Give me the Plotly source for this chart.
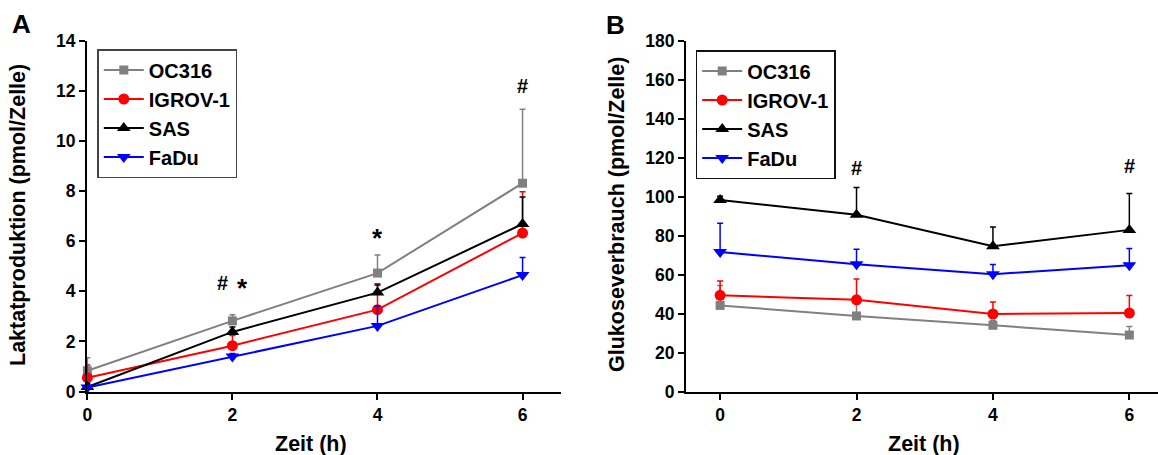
import plotly.graph_objects as go

# Time points (h)
zeit = [0, 2, 4, 6]
zelllinien = ["OC316", "IGROV-1", "SAS", "FaDu"]
farben = ["#808080", "#ff0000", "#000000", "#0000ff"]
symbole = ["square", "circle", "triangle-up", "triangle-down"]
groessen = [9, 11, 12, 12]

# Panel A: lactate production (pmol/cell), mean and upper SD
laktat_oc316 = [0.83, 2.82, 4.73, 8.32]
laktat_igrov = [0.55, 1.83, 3.27, 6.33]
laktat_sas = [0.18, 2.38, 3.95, 6.69]
laktat_fadu = [0.16, 1.40, 2.62, 4.65]
laktat_sd_oc316 = [0.52, 0.25, 0.72, 2.95]
laktat_sd_igrov = [0.51, 0.41, 1.03, 1.65]
laktat_sd_sas = [0.15, 0.20, 0.30, 1.08]
laktat_sd_fadu = [0.08, 0.12, 0.80, 0.70]

# Panel B: glucose consumption (pmol/cell), mean and upper SD
glukose_oc316 = [44.2, 38.8, 34.0, 29.0]
glukose_igrov = [49.4, 47.1, 39.8, 40.3]
glukose_sas = [98.3, 90.8, 74.6, 83.0]
glukose_fadu = [71.6, 65.3, 60.2, 64.9]
glukose_sd_oc316 = [10.3, 7.0, 2.5, 4.4]
glukose_sd_igrov = [7.4, 10.7, 6.1, 9.0]
glukose_sd_sas = [2.0, 14.0, 9.9, 18.7]
glukose_sd_fadu = [14.8, 7.8, 5.0, 8.5]

laktat_werte = [laktat_oc316, laktat_igrov, laktat_sas, laktat_fadu]
laktat_sd = [laktat_sd_oc316, laktat_sd_igrov, laktat_sd_sas, laktat_sd_fadu]
glukose_werte = [glukose_oc316, glukose_igrov, glukose_sas, glukose_fadu]
glukose_sd = [glukose_sd_oc316, glukose_sd_igrov, glukose_sd_sas, glukose_sd_fadu]

# Significance marks: (panel, x, y, text, size)
signifikanz = [
    ("A", 1.86, 4.34, "#", 20),
    ("A", 2.14, 4.15, "*", 26),
    ("A", 4.0, 6.15, "*", 26),
    ("A", 6.0, 12.19, "#", 20),
    ("B", 2.0, 114.7, "#", 20),
    ("B", 6.0, 116.0, "#", 20),
]

W, H = 1158, 455
FONT = "Liberation Sans, Arial, sans-serif"


def px_x(p):
    return p / W


def px_y(p):
    return 1 - p / H


fig = go.Figure()

for i, name in enumerate(zelllinien):
    for werte, sd, xa, ya, leg in [
        (laktat_werte[i], laktat_sd[i], "x", "y", "legend"),
        (glukose_werte[i], glukose_sd[i], "x2", "y2", "legend2"),
    ]:
        fig.add_trace(go.Scatter(
            x=zeit, y=werte, name=name, mode="lines+markers",
            xaxis=xa, yaxis=ya, legend=leg, cliponaxis=False,
            line=dict(color=farben[i], width=2),
            marker=dict(symbol=symbole[i], size=groessen[i], color=farben[i],
                        line=dict(width=0)),
            error_y=dict(type="data", symmetric=False, array=sd,
                         arrayminus=[0] * len(sd), color=farben[i],
                         thickness=1.5, width=3),
        ))

dom_y = [px_y(391.5), px_y(41)]
dom_xa = [px_x(87), px_x(561)]
dom_xb = [px_x(686), 1.0]

tickfont = dict(family=FONT, size=17.5, color="black", weight="bold")
achse = dict(showline=True, linecolor="black", linewidth=2, ticks="outside",
             ticklen=6, tickwidth=2, tickcolor="black", showgrid=False,
             zeroline=False, tickfont=tickfont, automargin=False)
rahmen = dict(showline=True, linecolor="black", linewidth=2, ticks="inside",
              tickwidth=1.5, tickcolor="black", showgrid=False, zeroline=False,
              showticklabels=False, automargin=False)

xr_a = [-0.005, 6.53]
xr_b = [-0.5, 6.42]

legend_font = dict(family=FONT, size=20, color="black", weight="bold")

fig.update_layout(
    template="none",
    width=W, height=H, margin=dict(l=0, r=0, t=0, b=0, autoexpand=False),
    paper_bgcolor="white", plot_bgcolor="white",
    font=dict(family=FONT, color="black"),
    xaxis=dict(domain=dom_xa, range=xr_a, anchor="y", tickvals=zeit, **achse),
    yaxis=dict(domain=dom_y, range=[0, 14], anchor="x",
               tickvals=list(range(0, 15, 2)), **achse),
    xaxis2=dict(domain=dom_xb, range=xr_b, anchor="y2", tickvals=zeit, **achse),
    yaxis2=dict(domain=dom_y, range=[0, 180], anchor="x2",
                tickvals=list(range(0, 181, 20)), **achse),
    # frame: top and right of panel A, top of panel B
    xaxis3=dict(overlaying="x", side="top", anchor="y", range=xr_a,
                tickvals=zeit, ticklen=3, **rahmen),
    yaxis3=dict(overlaying="y", side="right", anchor="x", range=[0, 14],
                tickvals=list(range(0, 15, 2)), ticklen=5, **rahmen),
    xaxis4=dict(overlaying="x2", side="top", anchor="y2", range=xr_b,
                tickvals=zeit, ticklen=3, **rahmen),
    showlegend=True,
    legend=dict(x=px_x(97.3), y=px_y(49), xanchor="left", yanchor="top",
                bgcolor="white", bordercolor="#444444", borderwidth=1.5,
                font=legend_font, tracegroupgap=0, itemwidth=40),
    legend2=dict(x=px_x(695.7), y=px_y(50), xanchor="left", yanchor="top",
                 bgcolor="white", bordercolor="#111111", borderwidth=1.5,
                 font=legend_font, tracegroupgap=0, itemwidth=40),
)

anns = []
ctr = dict(xanchor="center", yanchor="middle", showarrow=False)
# Panel letters
anns.append(dict(text="A", x=px_x(21.7), y=px_y(24), xref="paper", yref="paper",
                 font=dict(family=FONT, size=26, weight="bold"), **ctr))
anns.append(dict(text="B", x=px_x(615), y=px_y(25), xref="paper", yref="paper",
                 font=dict(family=FONT, size=26, weight="bold"), **ctr))
# Axis titles
titel_font = dict(family=FONT, size=21.5, color="black", weight="bold")
anns.append(dict(text="Laktatproduktion (pmol/Zelle)", x=px_x(18), y=px_y(215),
                 xref="paper", yref="paper", textangle=-90, font=titel_font, **ctr))
anns.append(dict(text="Glukoseverbrauch (pmol/Zelle)", x=px_x(617), y=px_y(215),
                 xref="paper", yref="paper", textangle=-90, font=titel_font, **ctr))
anns.append(dict(text="Zeit (h)", x=px_x(310.7), y=px_y(444), xref="paper",
                 yref="paper", font=titel_font, **ctr))
anns.append(dict(text="Zeit (h)", x=px_x(924), y=px_y(444), xref="paper",
                 yref="paper", font=titel_font, **ctr))
# Significance marks
for panel, sx, sy, txt, sz in signifikanz:
    xr, yr = ("x", "y") if panel == "A" else ("x2", "y2")
    anns.append(dict(text=txt, x=sx, y=sy, xref=xr, yref=yr,
                     font=dict(family=FONT, size=sz, color="black", weight="bold"),
                     **ctr))

fig.update_layout(annotations=anns)

fig.write_html("out.html")
